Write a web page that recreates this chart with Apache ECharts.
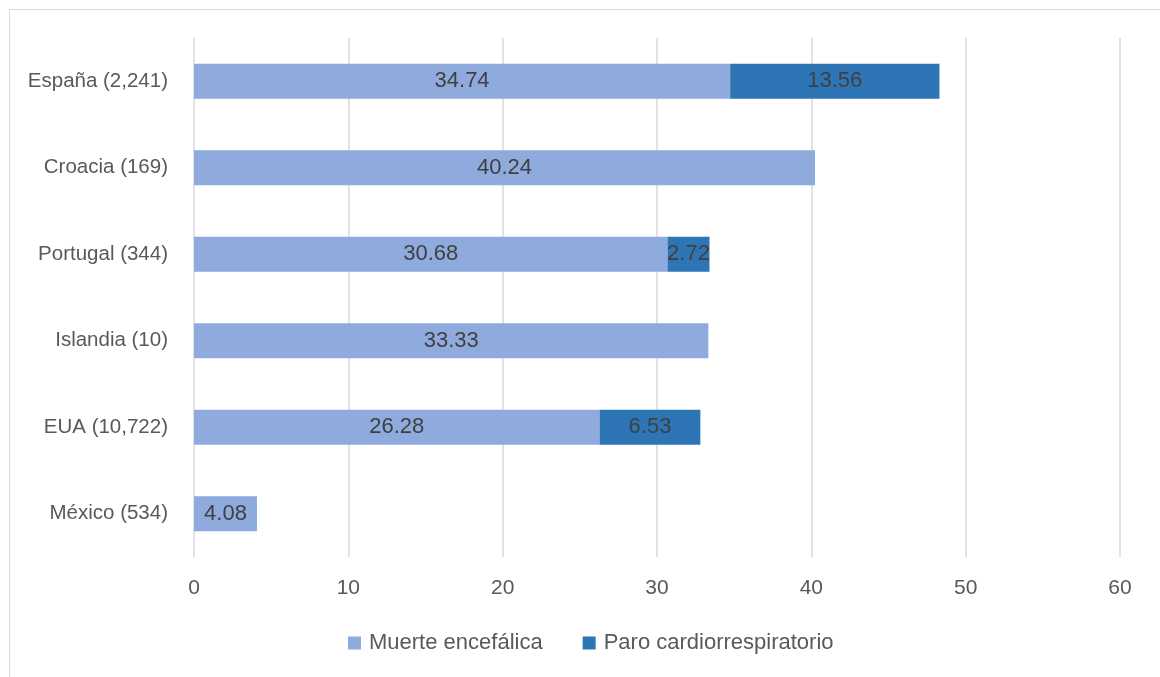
<!DOCTYPE html>
<html><head><meta charset="utf-8">
<script src="https://cdn.jsdelivr.net/npm/echarts@6/dist/echarts.min.js"></script>
<style>html,body{margin:0;padding:0;background:#fff}#c{width:1160px;height:677px}</style>
</head><body><div id="c"></div>
<script>
const categories = ['España (2,241)', 'Croacia (169)', 'Portugal (344)', 'Islandia (10)', 'EUA (10,722)', 'México (534)'];
const muerteEncefalica = [34.74, 40.24, 30.68, 33.33, 26.28, 4.08];
const paroCardio = [13.56, null, 2.72, null, 6.53, null];
const seriesNames = ['Muerte encefálica', 'Paro cardiorrespiratorio'];

const FONT = 'Liberation Sans, Arial, sans-serif';
const chart = echarts.init(document.getElementById('c'));
const lbl = {show: true, position: 'inside', color: '#404040', fontSize: 22, fontFamily: FONT,
  formatter: p => p.value == null ? '' : p.value.toFixed(2)};
chart.setOption({
  animation: false,
  graphic: [{type: 'rect', shape: {x: 9.5, y: 9.5, width: 1300, height: 800},
    style: {fill: 'none', stroke: '#d9d9d9', lineWidth: 1}, silent: true}],
  grid: {left: 194, right: 40, top: 38, bottom: 120, containLabel: false},
  legend: {top: 627, left: 343, itemWidth: 13, itemHeight: 13, itemGap: 40, icon: 'rect',
    textStyle: {color: '#595959', fontSize: 22, fontFamily: FONT, padding: [0, 0, 0, 3]},
    data: seriesNames},
  xAxis: {type: 'value', min: 0, max: 60, interval: 10,
    axisLine: {show: false}, axisTick: {show: false},
    splitLine: {lineStyle: {color: '#d9d9d9', width: 1.5}},
    axisLabel: {color: '#595959', fontSize: 21, fontFamily: FONT, margin: 21}},
  yAxis: {type: 'category', inverse: true, data: categories,
    axisLine: {show: false}, axisTick: {show: false},
    axisLabel: {color: '#595959', fontSize: 20.5, fontFamily: FONT, margin: 26}},
  series: [
    {name: seriesNames[0], type: 'bar', stack: 't', data: muerteEncefalica, barWidth: 35,
      itemStyle: {color: '#8FAADC'}, label: lbl},
    {name: seriesNames[1], type: 'bar', stack: 't', data: paroCardio, barWidth: 35,
      itemStyle: {color: '#2E75B6'}, label: lbl}
  ]
});
</script></body></html>
